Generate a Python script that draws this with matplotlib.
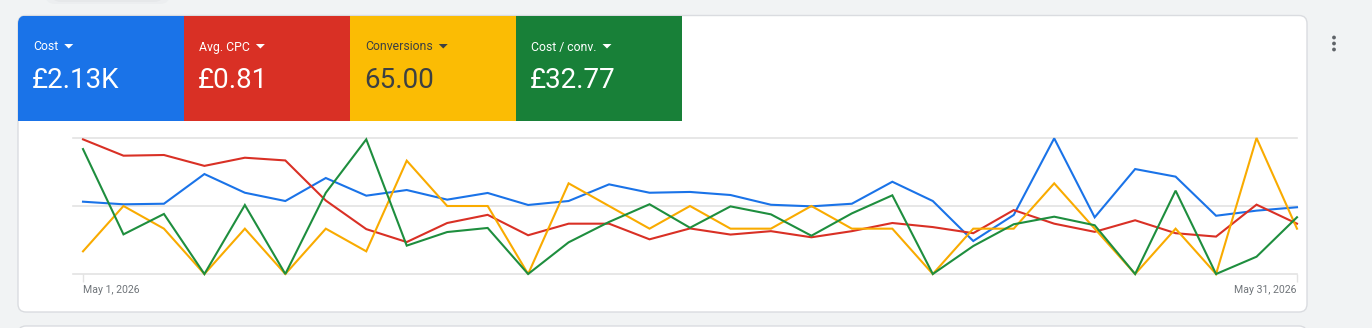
import matplotlib.pyplot as plt
import matplotlib.patches as mpatches
import numpy as np
import pandas as pd

plt.rcParams['font.family'] = ['Roboto', 'DejaVu Sans']

# daily values, May 2026
days = pd.date_range('2026-05-01', '2026-05-31', freq='D')
cost = [63.8, 61.5, 62.0, 88.2, 71.7, 64.4, 84.7, 69.1, 74.1, 65.6, 71.5,
        60.9, 64.4, 79.1, 71.7, 72.4, 69.7, 61.1, 59.7, 62.0, 81.4, 64.4,
        29.1, 52.1, 119.7, 50.0, 92.6, 85.9, 51.4, 55.9, 58.9]
avg_cpc = [1.98, 1.74, 1.75, 1.59, 1.71, 1.67, 1.08, 0.66, 0.47, 0.75, 0.87,
           0.57, 0.74, 0.74, 0.51, 0.67, 0.58, 0.63, 0.54, 0.63, 0.75, 0.69,
           0.60, 0.94, 0.74, 0.62, 0.79, 0.60, 0.55, 1.02, 0.74]
conversions = [1, 3, 2, 0, 2, 0, 2, 1, 5, 3, 3, 0, 4, 3, 2, 3, 2, 2, 3, 2,
               2, 0, 2, 2, 4, 2, 0, 2, 0, 6, 2]
cost_per_conv = [64.3, 20.4, 30.9, 0, 35.5, 0, 41.8, 69.3, 14.6, 21.6, 23.7,
                 0, 16.3, 26.8, 35.9, 23.8, 34.8, 30.7, 19.7, 31.2, 40.5, 0,
                 14.4, 25.6, 29.5, 25.1, 0, 42.9, 0, 8.9, 29.2]

tile_labels = ['Cost', 'Avg. CPC', 'Conversions', 'Cost / conv.']
tile_values = ['£2.13K', '£0.81', '65.00', '£32.77']
tile_colors = ['#1a73e8', '#d93025', '#fbbc04', '#188038']
text_colors = ['white', 'white', '#3c4043', 'white']
line_colors = ['#1a73e8', '#d93025', '#f9ab00', '#1e8e3e']
series = [cost, avg_cpc, conversions, cost_per_conv]
series_max = [120, 2.0, 6, 70]

W, H = 1372, 328
fig = plt.figure(figsize=(W / 100, H / 100), dpi=100)
fig.patch.set_facecolor('#f1f3f4')

# background layer in pixel coordinates
bg = fig.add_axes([0, 0, 1, 1])
bg.set_xlim(0, W)
bg.set_ylim(H, 0)
bg.axis('off')

# soft shadow of the element above
for i, a in enumerate([0.05, 0.07, 0.09]):
    bg.add_patch(mpatches.FancyBboxPatch((45 + i * 6, -20), 125 - i * 12, 24 - i * 2,
                 boxstyle='round,pad=0,rounding_size=10', fc='#9aa0a6',
                 ec='none', alpha=a))

# next card peeking at the bottom
bg.add_patch(mpatches.FancyBboxPatch((18, 326), 1289, 20,
             boxstyle='round,pad=0,rounding_size=8', fc='white',
             ec='#dadce0', lw=1))

card = mpatches.FancyBboxPatch((18, 15.5), 1289, 296.5,
                               boxstyle='round,pad=0,rounding_size=8',
                               fc='white', ec='#dadce0', lw=1)
bg.add_patch(card)

tile_w = 166
for i, (lab, val) in enumerate(zip(tile_labels, tile_values)):
    x0 = 18 + i * tile_w
    r = mpatches.Rectangle((x0, 15.5), tile_w, 105.5, fc=tile_colors[i], ec='none')
    bg.add_patch(r)
    r.set_clip_path(card)
    t = bg.text(x0 + 15, 47, lab, color=text_colors[i], fontsize=8.8,
                va='center', ha='left')
    fig.canvas.draw()
    ext = t.get_window_extent()
    tx = ext.x1 + 6
    bg.add_patch(mpatches.Polygon([[tx, 44], [tx + 9, 44], [tx + 4.5, 48.5]],
                 closed=True, fc=text_colors[i], ec='none'))
    bg.text(x0 + 14, 80.5, val, color=text_colors[i], fontsize=20,
            va='center', ha='left')

# kebab menu
for yy in [37.5, 43.5, 49.5]:
    bg.add_patch(mpatches.Circle((1334, yy), 1.9, fc='#5f6368', ec='none'))

# chart area
left_px, right_px, top_px, base_px = 73, 1297, 138, 274
ax = fig.add_axes([left_px / W, (H - base_px) / H,
                   (right_px - left_px) / W, (base_px - top_px) / H])
ax.patch.set_alpha(0)
pad_days = (83 - left_px) / ((right_px - 83) / 30)
x0 = days[0] - pd.Timedelta(days=pad_days)
ax.set_xlim(x0, days[-1])
ax.set_ylim(0, 1)
for yv in [0, 0.5, 1]:
    ax.axhline(yv, color='#e3e3e3', lw=1.2, zorder=0, clip_on=False)
for s in ax.spines.values():
    s.set_visible(False)
ax.set_yticks([])
ax.set_xticks([days[0], days[-1]])
ax.set_xticklabels(['May 1, 2026', 'May 31, 2026'])
ax.tick_params(axis='x', length=6, width=1, color='#e3e3e3', pad=2,
               labelsize=7.6, labelcolor='#70757a')
labels = ax.get_xticklabels()
labels[0].set_ha('left')
labels[1].set_ha('right')

for i, vals in enumerate(series):
    ax2 = ax.twinx()
    ax2.set_ylim(0, series_max[i])
    ax2.axis('off')
    ax2.plot(days, vals, color=line_colors[i], lw=1.5, clip_on=False,
             solid_joinstyle='miter')

fig.savefig('out.png', dpi=100, facecolor=fig.get_facecolor())
